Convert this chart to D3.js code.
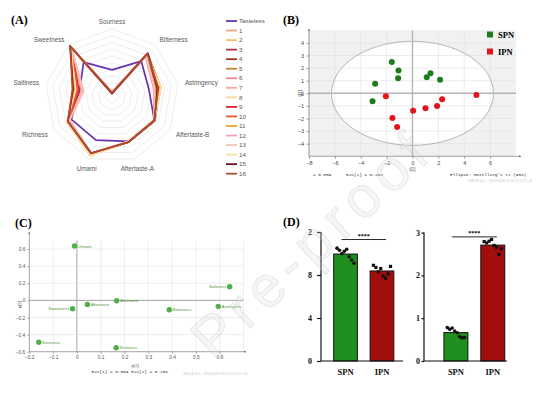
<!DOCTYPE html>
<html>
<head>
<meta charset="utf-8">
<script src="https://cdn.jsdelivr.net/npm/d3@7"></script>
<style>
  body { margin: 0; background: #fff; }
  svg { display: block; }
</style>
</head>
<body>
<script>
// ---------- (A) radar data ----------
var axesA = ["Sourness", "Bitterness", "Astringency", "Aftertaste-B", "Aftertaste-A", "Umami", "Richness", "Saltiness", "Sweetness"];
var ringsA = [1, 2, 3, 4, 5, 6, 7, 8, 9, 10];
var seriesA = ["Tasteless", "1", "2", "3", "4", "5", "6", "7", "8", "9", "10", "11", "12", "13", "14", "15", "16"];
var coloursA = ["#6a32b0", "#f2a08c", "#f7bf6a", "#b3324f", "#a3341f", "#c4862a", "#ee8796", "#f5aa94", "#f9d597",
                "#dc1f3c", "#ee5430", "#eea12a", "#f2a6b4", "#f7c3b3", "#fbe0a6", "#6b0c22", "#b24e30"];
var valTasteless = [3.9, 6.8, 5.6, 7.3, 7.2, 7.0, 7.0, 4.9, 6.6];
var val1  = [0.5, 7.9, 6.6, 7.3, 7.3, 9.2, 7.5, 4.6, 9.6];
var val2  = [0.4, 8.0, 7.0, 7.3, 7.2, 9.5, 7.7, 5.3, 9.6];
var val3  = [0.4, 8.1, 6.8, 7.3, 7.3, 9.1, 7.6, 5.5, 9.7];
var val4  = [0.5, 8.3, 7.2, 7.4, 7.3, 9.2, 7.6, 5.6, 9.7];
var val5  = [0.4, 8.2, 7.4, 7.3, 7.2, 9.3, 7.7, 5.4, 9.6];
var val6  = [0.5, 7.8, 6.4, 7.3, 7.3, 9.1, 7.3, 4.4, 9.5];
var val7  = [0.6, 7.9, 6.5, 7.2, 7.2, 9.2, 7.4, 4.5, 9.6];
var val8  = [0.4, 8.0, 7.3, 7.3, 7.2, 9.4, 7.8, 5.6, 9.6];
var val9  = [0.4, 8.1, 6.6, 7.3, 7.3, 9.1, 7.5, 5.0, 9.6];
var val10 = [0.5, 8.0, 6.7, 7.3, 7.3, 9.2, 7.5, 5.2, 9.6];
var val11 = [0.4, 8.2, 7.3, 7.3, 7.2, 9.4, 7.7, 5.7, 9.7];
var val12 = [0.6, 7.8, 6.3, 7.3, 7.3, 9.1, 7.3, 4.3, 9.5];
var val13 = [0.5, 7.9, 6.5, 7.3, 7.2, 9.2, 7.4, 4.4, 9.5];
var val14 = [0.4, 8.0, 7.4, 7.3, 7.2, 9.5, 7.8, 5.5, 9.6];
var val15 = [0.4, 8.3, 6.9, 7.3, 7.3, 9.1, 7.6, 5.9, 9.7];
var val16 = [0.5, 8.2, 7.0, 7.3, 7.3, 9.1, 7.6, 6.0, 9.7];
var valuesA = [valTasteless, val1, val2, val3, val4, val5, val6, val7, val8, val9, val10, val11, val12, val13, val14, val15, val16];

// ---------- (B) PCA scores ----------
var spnX = [-1.60, -1.08, -1.11, -2.89, -3.09, 1.10, 1.39, 2.13];
var spnY = [2.48, 1.80, 1.19, 0.76, -0.63, 1.27, 1.59, 1.08];
var ipnX = [-2.06, -1.55, -1.19, 0.05, 1.00, 1.90, 2.29, 4.94];
var ipnY = [-0.24, -1.96, -2.67, -1.38, -1.19, -1.00, -0.48, -0.13];
var ellipseB = [6.26, 4.13];   // Hotelling's T2 semi-axes
var xTicksB = [-8, -6, -4, -2, 0, 2, 4, 6];
var yTicksB = [-4, -3, -2, -1, 0, 1, 2, 3, 4];

// ---------- (C) PCA loadings ----------
var loadLabels = ["Umami", "Saltiness", "Astringenc", "Bitterness", "Aftertaste", "Aftertaste", "Sweetness", "Sourness", "Richness"];
var loadP1 = [-0.010, 0.642, 0.594, 0.388, 0.167, 0.044, -0.018, -0.160, 0.165];
var loadP2 = [0.635, 0.159, -0.070, -0.110, -0.005, -0.047, -0.098, -0.490, -0.554];
var xTicksC = [-0.2, -0.1, 0, 0.1, 0.2, 0.3, 0.4, 0.5, 0.6];
var yTicksC = [-0.6, -0.4, -0.2, 0, 0.2, 0.4, 0.6];

// ---------- (D) bar charts ----------
var groupsD = ["SPN", "IPN"];
var spnD1 = [10.5, 10.3, 10.0, 10.2, 10.4, 9.7, 9.4, 9.1];
var ipnD1 = [8.9, 8.7, 8.3, 8.6, 7.9, 7.7, 8.1, 8.8];
var spnD2 = [0.78, 0.74, 0.77, 0.70, 0.66, 0.57, 0.54, 0.55];
var ipnD2 = [2.79, 2.76, 2.80, 2.84, 2.70, 2.66, 2.49, 2.62];
var yTicksD1 = [0, 4, 8, 12];
var yTickLabelsD1 = ["0", "4", "8", "2"];
var yTicksD2 = [0, 1, 2, 3];

var SANS = "'Liberation Sans', Arial, sans-serif",
    SERIF = "'Liberation Serif', 'Times New Roman', serif",
    MONO = "'Liberation Mono', monospace";

var svg = d3.select("body").append("svg")
    .attr("width", 540)
    .attr("height", 394);

var defs = svg.append("defs");
defs.append("marker")
    .attr("id", "arrow")
    .attr("viewBox", "0 0 6 6")
    .attr("refX", 5).attr("refY", 3)
    .attr("markerWidth", 4).attr("markerHeight", 4)
    .attr("orient", "auto")
    .append("path").attr("d", "M0,0.6L6,3L0,5.4Z").attr("fill", "#666");

// panel letters
[["(A)", 11, 24], ["(B)", 283, 24], ["(C)", 15, 227], ["(D)", 283, 226]].forEach(function(p) {
    svg.append("text").attr("x", p[1]).attr("y", p[2])
        .attr("font-family", SERIF).attr("font-weight", "bold").attr("font-size", 12)
        .text(p[0]);
});

//////////////////////////////// (A) radar ////////////////////////////////
var cxA = 112, cyA = 96;
var rA = d3.scaleLinear().domain([0, 10]).range([0, 67]);
var angA = function(i) { return i * 2 * Math.PI / axesA.length; };
var radial = d3.lineRadial()
    .angle(function(d, i) { return angA(i); })
    .radius(function(d) { return rA(d); })
    .curve(d3.curveLinearClosed);

var gA = svg.append("g").attr("transform", "translate(" + cxA + "," + cyA + ")");

gA.selectAll(".ring")
    .data(ringsA)
    .enter().append("path")
    .attr("d", function(k) { return radial(axesA.map(function() { return k; })); })
    .attr("fill", "none")
    .attr("stroke", "#e0e0e0")
    .attr("stroke-width", 0.6);

gA.selectAll(".series")
    .data(valuesA)
    .enter().append("path")
    .attr("d", function(d) { return radial(d); })
    .attr("fill", "none")
    .attr("stroke", function(d, i) { return coloursA[i]; })
    .attr("stroke-width", 1.7)
    .attr("stroke-linejoin", "round");

gA.selectAll(".axlabel")
    .data(axesA)
    .enter().append("text")
    .attr("x", function(d, i) { return 74 * Math.sin(angA(i)); })
    .attr("y", function(d, i) { return -74 * Math.cos(angA(i)); })
    .attr("dy", function(d, i) { return 2.2 + 3 * Math.max(0, -Math.cos(angA(i))); })
    .attr("text-anchor", function(d, i) {
        var s = Math.sin(angA(i));
        return Math.abs(s) < 0.4 ? "middle" : (s > 0 ? "start" : "end");
    })
    .attr("font-family", SANS).attr("font-size", 6.3).attr("fill", "#5a5a5a")
    .text(function(d) { return d; });

// legend
var legA = svg.append("g");
var yLeg = d3.scaleLinear().domain([0, 16]).range([21, 173.7]);
seriesA.forEach(function(s, i) {
    legA.append("line")
        .attr("x1", 226).attr("x2", 237)
        .attr("y1", yLeg(i)).attr("y2", yLeg(i))
        .attr("stroke", coloursA[i]).attr("stroke-width", 1.8);
    legA.append("text")
        .attr("x", 239).attr("y", yLeg(i) + 2.2)
        .attr("font-family", SANS).attr("font-size", 6.2).attr("fill", "#555")
        .text(s);
});

//////////////////////////////// (B) score plot ////////////////////////////////
var xB = d3.scaleLinear().domain([-8, 8]).range([309, 516]);
var yB = d3.scaleLinear().domain([-5, 5]).range([156.3, 30.3]);
var gB = svg.append("g");

gB.append("rect")
    .attr("x", xB(-8)).attr("y", yB(5))
    .attr("width", xB(8) - xB(-8)).attr("height", yB(-5) - yB(5))
    .attr("fill", "#f1f1f1");
gB.append("ellipse")
    .attr("cx", xB(0)).attr("cy", yB(0))
    .attr("rx", xB(ellipseB[0]) - xB(0)).attr("ry", yB(0) - yB(ellipseB[1]))
    .attr("fill", "#fff");

// grid
gB.selectAll(".vg").data(xTicksB).enter().append("line")
    .attr("x1", function(d) { return xB(d); }).attr("x2", function(d) { return xB(d); })
    .attr("y1", yB(-5)).attr("y2", yB(5))
    .attr("stroke", "#e1e1e1").attr("stroke-width", 0.6);
gB.selectAll(".hg").data(yTicksB).enter().append("line")
    .attr("x1", xB(-8)).attr("x2", xB(8))
    .attr("y1", function(d) { return yB(d); }).attr("y2", function(d) { return yB(d); })
    .attr("stroke", "#e1e1e1").attr("stroke-width", 0.6);

gB.append("ellipse")
    .attr("cx", xB(0)).attr("cy", yB(0))
    .attr("rx", xB(ellipseB[0]) - xB(0)).attr("ry", yB(0) - yB(ellipseB[1]))
    .attr("fill", "none").attr("stroke", "#9a9a9a").attr("stroke-width", 0.7);

// zero lines
gB.append("line").attr("x1", xB(-8)).attr("x2", xB(8)).attr("y1", yB(0)).attr("y2", yB(0))
    .attr("stroke", "#b5b5b5").attr("stroke-width", 1.4);
gB.append("line").attr("x1", xB(0)).attr("x2", xB(0)).attr("y1", yB(-5)).attr("y2", yB(5))
    .attr("stroke", "#b5b5b5").attr("stroke-width", 1.4);

// axes
var axBx = gB.append("g").attr("transform", "translate(0," + yB(-5) + ")")
    .call(d3.axisBottom(xB).tickValues(xTicksB).tickSize(2.5).tickPadding(2));
var axBy = gB.append("g").attr("transform", "translate(" + xB(-8) + ",0)")
    .call(d3.axisLeft(yB).tickValues(yTicksB).tickSize(2.5).tickPadding(2.5));
[axBx, axBy].forEach(function(a) {
    a.select(".domain").remove();
    a.selectAll("line").attr("stroke", "#666").attr("stroke-width", 0.6);
    a.selectAll("text").attr("font-family", SANS).attr("font-size", 5.5).attr("fill", "#444");
});
gB.append("line").attr("x1", xB(-8)).attr("x2", 521).attr("y1", yB(-5)).attr("y2", yB(-5))
    .attr("stroke", "#666").attr("stroke-width", 0.6).attr("marker-end", "url(#arrow)");
gB.append("line").attr("x1", xB(-8)).attr("x2", xB(-8)).attr("y1", yB(-5)).attr("y2", 29)
    .attr("stroke", "#666").attr("stroke-width", 0.6).attr("marker-end", "url(#arrow)");

gB.selectAll(".spn").data(spnX).enter().append("circle")
    .attr("cx", function(d) { return xB(d); })
    .attr("cy", function(d, i) { return yB(spnY[i]); })
    .attr("r", 3).attr("fill", "#1c7c1c");
gB.selectAll(".ipn").data(ipnX).enter().append("circle")
    .attr("cx", function(d) { return xB(d); })
    .attr("cy", function(d, i) { return yB(ipnY[i]); })
    .attr("r", 3).attr("fill", "#e2141c");

// legend
[["SPN", "#1c7c1c", 34.5], ["IPN", "#e2141c", 51.5]].forEach(function(l) {
    gB.append("rect").attr("x", 487).attr("y", l[2] - 3).attr("width", 6).attr("height", 6).attr("fill", l[1]);
    gB.append("text").attr("x", 498).attr("y", l[2] + 3)
        .attr("font-family", SERIF).attr("font-weight", "bold").attr("font-size", 8.5)
        .text(l[0]);
});

gB.append("text").attr("x", xB(0)).attr("y", 170.5).attr("text-anchor", "middle")
    .attr("font-family", SANS).attr("font-size", 4.5).attr("fill", "#555").text("t[1]");
gB.append("text").attr("transform", "translate(301.5," + yB(0) + ") rotate(-90)").attr("text-anchor", "middle")
    .attr("font-family", SANS).attr("font-size", 4.5).attr("fill", "#555").text("t[2]");
[["= 0.559", 313], ["R2X[2] = 0.254", 346], ["Ellipse: Hotelling's T2 (95%)", 450]].forEach(function(t) {
    gB.append("text").attr("x", t[1]).attr("y", 175.8)
        .attr("font-family", MONO).attr("font-size", 4.4).attr("fill", "#333").text(t[0]);
});
gB.append("text").attr("x", 468).attr("y", 181.5)
    .attr("font-family", SANS).attr("font-size", 3.3).attr("fill", "#c8c8c8")
    .text("SIMCA 14.1 - 2020/10/28 15:22:12 (UTC+8)");

//////////////////////////////// (C) loading plot ////////////////////////////////
var xC = d3.scaleLinear().domain([-0.2, 0.7]).range([29.3, 243.5]);
var yC = d3.scaleLinear().domain([-0.6, 0.7]).range([351.7, 240.5]);
var gC = svg.append("g");

var vGridC = xTicksC.concat([0.7]);
gC.selectAll(".vg").data(vGridC).enter().append("line")
    .attr("x1", function(d) { return xC(d); }).attr("x2", function(d) { return xC(d); })
    .attr("y1", yC(-0.6)).attr("y2", yC(0.7))
    .attr("stroke", function(d) { return d === 0 ? "#9a9a9a" : "#e3e3e3"; })
    .attr("stroke-width", function(d) { return d === 0 ? 0.9 : 0.6; });
gC.selectAll(".hg").data(yTicksC).enter().append("line")
    .attr("x1", xC(-0.2)).attr("x2", xC(0.7))
    .attr("y1", function(d) { return yC(d); }).attr("y2", function(d) { return yC(d); })
    .attr("stroke", function(d) { return d === 0 ? "#9a9a9a" : "#e3e3e3"; })
    .attr("stroke-width", function(d) { return d === 0 ? 0.9 : 0.6; });

var axCx = gC.append("g").attr("transform", "translate(0," + yC(-0.6) + ")")
    .call(d3.axisBottom(xC).tickValues(xTicksC).tickSize(2).tickPadding(1.5).tickFormat(d3.format("")));
var axCy = gC.append("g").attr("transform", "translate(" + xC(-0.2) + ",0)")
    .call(d3.axisLeft(yC).tickValues(yTicksC).tickSize(2).tickPadding(2).tickFormat(d3.format("")));
[axCx, axCy].forEach(function(a) {
    a.select(".domain").remove();
    a.selectAll("line").attr("stroke", "#777").attr("stroke-width", 0.6);
    a.selectAll("text").attr("font-family", SANS).attr("font-size", 4.8).attr("fill", "#555");
});
gC.append("line").attr("x1", xC(-0.2)).attr("x2", 246).attr("y1", yC(-0.6)).attr("y2", yC(-0.6))
    .attr("stroke", "#777").attr("stroke-width", 0.6).attr("marker-end", "url(#arrow)");
gC.append("line").attr("x1", xC(-0.2)).attr("x2", xC(-0.2)).attr("y1", yC(-0.6)).attr("y2", 232)
    .attr("stroke", "#777").attr("stroke-width", 0.6).attr("marker-end", "url(#arrow)");

gC.selectAll(".pt").data(loadP1).enter().append("circle")
    .attr("cx", function(d) { return xC(d); })
    .attr("cy", function(d, i) { return yC(loadP2[i]); })
    .attr("r", 2.7).attr("fill", "#4fae47");
gC.selectAll(".lb").data(loadLabels).enter().append("text")
    .attr("x", function(d, i) { var left = (d === "Saltiness" || d === "Sweetness"); return xC(loadP1[i]) + (left ? -3.3 : 3.3); })
    .attr("y", function(d, i) { return yC(loadP2[i]) + 1.6; })
    .attr("text-anchor", function(d) { return (d === "Saltiness" || d === "Sweetness") ? "end" : "start"; })
    .attr("font-family", SANS).attr("font-size", 4.3).attr("fill", "#4d9a40")
    .text(function(d) { return d; });

gC.append("text").attr("x", 135).attr("y", 367).attr("text-anchor", "middle")
    .attr("font-family", SANS).attr("font-size", 4.3).attr("fill", "#555").text("p[1]");
gC.append("text").attr("transform", "translate(21," + yC(-0.05) + ") rotate(-90)").attr("text-anchor", "middle")
    .attr("font-family", SANS).attr("font-size", 4.3).attr("fill", "#555").text("p[2]");
gC.append("text").attr("x", 91.5).attr("y", 372.5)
    .attr("font-family", MONO).attr("font-size", 4.4).attr("fill", "#333")
    .text("R2X[1] = 0.559 R2X[2] = 0.254");
gC.append("text").attr("x", 183).attr("y", 375)
    .attr("font-family", SANS).attr("font-size", 3.3).attr("fill", "#c8c8c8")
    .text("SIMCA 14.1 - 2020/10/28 15:22:12 (UTC+8)");

//////////////////////////////// (D) bar charts ////////////////////////////////
var barColours = { SPN: "#1f8f1f", IPN: "#a20d0d" };

function barChart(xRange, align, yScale, spnVals, ipnVals, ticks, tickLabels, tickPad, sigY) {
    var x = d3.scaleBand().domain(groupsD).range(xRange)
        .paddingInner(0.35).paddingOuter(0.3).align(align);
    var g = svg.append("g");
    var sets = [spnVals, ipnVals];

    g.selectAll(".bar").data(groupsD).enter().append("rect")
        .attr("x", function(d) { return x(d); })
        .attr("width", x.bandwidth())
        .attr("y", function(d, i) { return yScale(d3.mean(sets[i])); })
        .attr("height", function(d, i) { return yScale(0) - yScale(d3.mean(sets[i])); })
        .attr("fill", function(d) { return barColours[d]; })
        .attr("stroke", "#111").attr("stroke-width", 1);

    // individual points: circles for SPN, squares for IPN
    var n = spnVals.length;
    var jit = function(d, i, cat) { return x(cat) + x.bandwidth() * (0.14 + 0.72 * i / (n - 1)); };
    g.selectAll(".dot").data(spnVals).enter().append("circle")
        .attr("cx", function(d, i) { return jit(d, i, "SPN"); })
        .attr("cy", function(d) { return yScale(d); })
        .attr("r", 1.8).attr("fill", "#111");
    g.selectAll(".sq").data(ipnVals).enter().append("rect")
        .attr("x", function(d, i) { return jit(d, i, "IPN") - 1.6; })
        .attr("y", function(d) { return yScale(d) - 1.6; })
        .attr("width", 3.2).attr("height", 3.2).attr("fill", "#111");

    // axes
    var ay = g.append("g").attr("transform", "translate(" + xRange[0] + ",0)")
        .call(d3.axisLeft(yScale).tickValues(ticks).tickSize(tickPad[0]).tickPadding(tickPad[1])
            .tickFormat(function(d, i) { return tickLabels[i]; }));
    ay.select(".domain").attr("stroke", "#111").attr("stroke-width", 1.2).attr("d", "M0," + yScale(0) + "V" + yScale(ticks[ticks.length - 1]));
    ay.selectAll("line").attr("stroke", "#111").attr("stroke-width", 1.2);
    ay.selectAll("text").attr("font-family", SERIF).attr("font-weight", "bold").attr("font-size", 8).attr("fill", "#111");

    var ax = g.append("g").attr("transform", "translate(0," + yScale(0) + ")")
        .call(d3.axisBottom(x).tickSize(0).tickPadding(8));
    ax.select(".domain").attr("stroke", "#111").attr("stroke-width", 1.2).attr("d", "M" + xRange[0] + ",0H" + xRange[1]);
    ax.selectAll("text").attr("font-family", SERIF).attr("font-weight", "bold").attr("font-size", 8.5).attr("fill", "#111");

    // significance bracket
    var x1 = x("SPN") + x.bandwidth() / 2 - 4, x2 = x("IPN") + x.bandwidth() / 2 + 4;
    g.append("line").attr("x1", x1).attr("x2", x2).attr("y1", yScale(sigY)).attr("y2", yScale(sigY))
        .attr("stroke", "#111").attr("stroke-width", 0.9);
    g.append("text").attr("x", (x1 + x2) / 2).attr("y", yScale(sigY) - 1.5).attr("text-anchor", "middle")
        .attr("font-family", SERIF).attr("font-weight", "bold").attr("font-size", 6).text("****");
}

var yD1 = d3.scaleLinear().domain([0, 12]).range([361, 232]);
var yD2 = d3.scaleLinear().domain([0, 3]).range([361, 232.6]);
barChart([321, 403], 0.58, yD1, spnD1, ipnD1, yTicksD1, yTicksD1.map(function(d, i) { return yTickLabelsD1[i]; }), [4, 5], 11.3);
barChart([424, 507], 0.9, yD2, spnD2, ipnD2, yTicksD2, yTicksD2.map(String), [2.5, 1.5], 2.9);

//////////////////////////////// watermark ////////////////////////////////
svg.append("text")
    .attr("transform", "translate(214,362) rotate(-43)")
    .attr("text-anchor", "start")
    .attr("font-family", SANS).attr("font-size", 58)
    .attr("letter-spacing", 7)
    .attr("fill", "#dcdcdc").attr("fill-opacity", 0.25)
    .attr("stroke", "#c4c4c4").attr("stroke-opacity", 0.45).attr("stroke-width", 0.7)
    .text("Pre-proof");
</script>
</body>
</html>
